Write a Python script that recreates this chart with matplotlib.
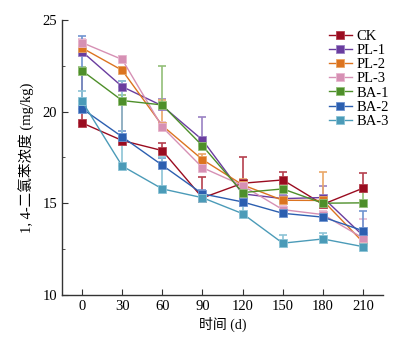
import matplotlib.pyplot as plt
import numpy as np

plt.rcParams['font.family'] = ['Liberation Serif', 'Noto Sans CJK SC']
plt.rcParams['axes.unicode_minus'] = False

days = [0, 30, 60, 90, 120, 150, 180, 210]

labels = ['CK', 'PL-1', 'PL-2', 'PL-3', 'BA-1', 'BA-2', 'BA-3']
colors = ['#9a0c20', '#6a3d9f', '#dc7420', '#d690b4', '#4e8f2a', '#2c5fb0', '#4b9bb8']
bar_colors = ['#b5404e', '#9a82c4', '#eaa767', '#e8b7cf', '#92bf78', '#6f94d0', '#8cc3d6']

ck   = [19.38, 18.42, 17.87, 15.29, 16.09, 16.27, 14.94, 15.82]
pl_1 = [23.27, 21.36, 20.31, 18.45, 15.51, 15.25, 15.31, 13.23]
pl_2 = [23.47, 22.25, 19.23, 17.38, 16.00, 15.16, 15.15, 12.87]
pl_3 = [23.76, 22.84, 19.15, 16.94, 15.96, 14.65, 14.38, 13.10]
ba_1 = [22.23, 20.60, 20.36, 18.13, 15.58, 15.78, 15.00, 15.02]
ba_2 = [20.16, 18.62, 17.07, 15.51, 15.07, 14.45, 14.24, 13.50]
ba_3 = [20.56, 17.03, 15.78, 15.30, 14.43, 12.82, 13.05, 12.63]

# upper standard deviations
ck_sd   = [2.80, 2.20, 0.42, 1.16, 1.44, 0.45, 0.20, 0.82]
pl_1_sd = [0.30, 0.30, 0.40, 1.24, 0.30, 0.20, 0.65, 0.30]
pl_2_sd = [0.30, 0.20, 1.40, 0.30, 0.30, 0.20, 1.55, 0.30]
pl_3_sd = [0.20, 0.20, 0.30, 0.20, 0.30, 0.20, 0.20, 1.03]
ba_1_sd = [0.20, 0.30, 2.11, 0.30, 0.30, 0.20, 0.30, 0.60]
ba_2_sd = [3.97, 0.30, 0.40, 0.20, 0.20, 0.15, 0.20, 1.10]
ba_3_sd = [0.55, 4.64, 1.72, 0.20, 0.40, 0.45, 0.31, 0.10]

series = [ck, pl_1, pl_2, pl_3, ba_1, ba_2, ba_3]
errors = [ck_sd, pl_1_sd, pl_2_sd, pl_3_sd, ba_1_sd, ba_2_sd, ba_3_sd]

fig = plt.figure(figsize=(4.05, 3.37), dpi=100)
ax = fig.add_axes([0.153, 0.125, 0.793, 0.816])

for vals, sd, lab, c, bc in zip(series, errors, labels, colors, bar_colors):
    sd = np.array(sd)
    ax.errorbar(days, vals, yerr=[np.zeros_like(sd), sd], fmt='none',
                ecolor=bc, elinewidth=1.2, capsize=3, capthick=1.2, zorder=2)
    ax.plot(days, vals, '-s', color=c, lw=1.0, markersize=5.2,
            markeredgewidth=0.6, markeredgecolor=bc, label=lab, zorder=3)

ax.set_xlim(-15, 225)
ax.set_ylim(10, 25)
ax.set_xticks(days)
ax.set_yticks([10, 15, 20, 25])
ax.set_yticks([12.5, 17.5, 22.5], minor=True)

for s in ['top', 'right']:
    ax.spines[s].set_visible(False)
for s in ['left', 'bottom']:
    ax.spines[s].set_color('#333333')
    ax.spines[s].set_linewidth(1.0)

ax.tick_params(axis='both', which='major', direction='in', length=4,
               color='#333333', labelsize=10.5)
ax.tick_params(axis='y', which='minor', direction='in', length=2.5, color='#333333')

ax.set_xlabel('时间 (d)', fontsize=10, labelpad=3)
ax.set_ylabel('1, 4-二氯苯浓度 (mg/kg)', fontsize=10.5, labelpad=5)

ax.legend(loc='upper right', bbox_to_anchor=(1.045, 0.995), frameon=False, fontsize=10.5,
          handlelength=1.6, handletextpad=0.3, labelspacing=0.06, borderaxespad=0.2)

fig.savefig('out.png', dpi=100)
